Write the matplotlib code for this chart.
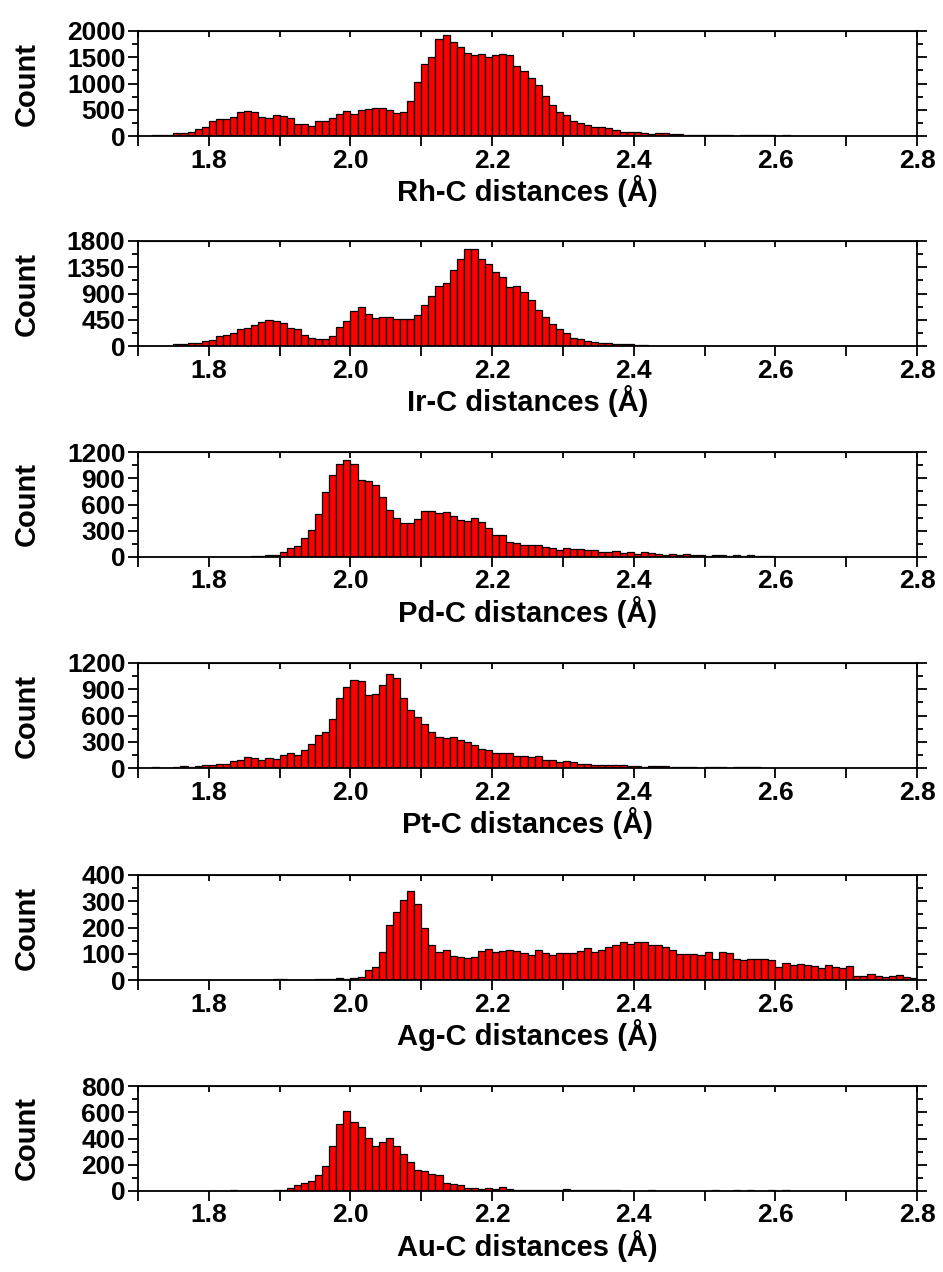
import numpy as np
import matplotlib
matplotlib.use("Agg")
import matplotlib.pyplot as plt
from matplotlib.ticker import MultipleLocator

plt.rcParams['font.family'] = ['Liberation Sans', 'DejaVu Sans']
plt.rcParams['font.weight'] = 'bold'

# histogram bins: 0.01 A wide, starting at 1.70 A (110 bins up to 2.80)
bin_start = 1.70
bin_width = 0.01

rh_counts = [0, 0, 25, 25, 25, 50, 50, 75, 125, 180,
             295, 327, 327, 370, 460, 478, 460, 370, 352, 400,
             390, 352, 233, 233, 200, 277, 295, 352, 410, 478,
             420, 503, 515, 535, 535, 503, 446, 460, 660, 1025,
             1371, 1503, 1855, 1918, 1786, 1692, 1579, 1541, 1560, 1503,
             1541, 1566, 1535, 1333, 1233, 1107, 975, 761, 585, 465,
             403, 277, 252, 214, 176, 164, 151, 113, 75, 75,
             69, 63, 38, 63, 63, 44, 44, 25, 19, 19,
             19, 19, 19, 19, 0, 25, 25, 25, 25, 25,
             0, 25, 0, 0, 0, 0, 0, 0, 0, 0,
             0, 0, 0, 0, 0, 0, 0, 0, 0, 0]

ir_counts = [0, 0, 5, 5, 5, 34, 34, 46, 46, 80,
             97, 165, 182, 222, 296, 308, 353, 410, 445, 428,
             388, 308, 285, 194, 142, 125, 125, 177, 331, 428,
             593, 673, 542, 473, 490, 502, 456, 456, 467, 524,
             707, 861, 1032, 1083, 1311, 1493, 1664, 1664, 1493, 1408,
             1265, 1191, 1015, 1032, 918, 792, 621, 502, 382, 291,
             228, 142, 114, 80, 74, 57, 46, 34, 34, 34,
             10, 10, 8, 8, 5, 5, 5, 5, 5, 5,
             0, 0, 0, 0, 0, 0, 0, 0, 0, 0,
             0, 0, 0, 0, 0, 0, 0, 0, 0, 0,
             0, 0, 0, 0, 0, 0, 0, 0, 0, 0]

pd_counts = [0, 0, 0, 0, 0, 0, 0, 0, 0, 0,
             0, 0, 0, 0, 0, 0, 8, 8, 23, 23,
             53, 102, 129, 212, 314, 496, 738, 939, 1067, 1109,
             1067, 878, 863, 818, 681, 541, 443, 394, 383, 439,
             522, 522, 500, 511, 466, 424, 413, 443, 401, 333,
             257, 257, 170, 155, 132, 132, 132, 114, 106, 83,
             102, 91, 91, 79, 79, 53, 53, 64, 45, 53,
             34, 53, 45, 34, 23, 34, 23, 34, 23, 23,
             11, 23, 23, 11, 23, 11, 23, 8, 8, 8,
             3, 3, 3, 3, 3, 3, 0, 0, 0, 0,
             0, 0, 0, 0, 0, 0, 0, 0, 0, 0]

pt_counts = [0, 0, 11, 0, 2, 11, 19, 11, 19, 34,
             34, 46, 46, 80, 95, 126, 114, 95, 118, 107,
             152, 171, 152, 206, 278, 377, 415, 556, 796, 922,
             1006, 991, 838, 850, 945, 1074, 1025, 796, 663, 579,
             499, 411, 354, 347, 354, 316, 293, 259, 217, 206,
             168, 168, 168, 133, 133, 122, 133, 95, 95, 69,
             76, 65, 46, 46, 38, 30, 30, 30, 30, 19,
             19, 11, 19, 19, 19, 11, 11, 11, 11, 3,
             11, 11, 11, 3, 11, 11, 11, 11, 0, 0,
             0, 0, 0, 0, 0, 0, 0, 0, 0, 0,
             0, 0, 0, 0, 0, 0, 0, 0, 0, 0]

ag_counts = [0, 0, 0, 0, 0, 0, 0, 0, 0, 0,
             0, 0, 0, 0, 0, 0, 0, 0, 0, 3,
             3, 0, 0, 1, 0, 3, 3, 4, 9, 5,
             9, 13, 39, 50, 108, 211, 260, 305, 338, 290,
             199, 135, 108, 114, 93, 89, 85, 89, 112, 119,
             105, 112, 116, 112, 102, 95, 116, 104, 97, 104,
             104, 104, 112, 123, 108, 116, 127, 135, 146, 138,
             146, 146, 135, 135, 127, 116, 100, 100, 100, 97,
             108, 79, 108, 102, 80, 75, 80, 81, 81, 76,
             51, 64, 58, 62, 58, 53, 47, 58, 51, 47,
             53, 17, 17, 24, 17, 13, 17, 20, 13, 9]

au_counts = [0, 0, 0, 0, 0, 0, 0, 0, 0, 0,
             0, 0, 0, 5, 0, 3, 0, 3, 3, 10,
             10, 20, 46, 58, 76, 119, 190, 340, 513, 607,
             528, 488, 406, 345, 376, 401, 345, 284, 224, 163,
             155, 130, 119, 64, 56, 43, 25, 25, 18, 25,
             18, 33, 18, 10, 10, 10, 10, 10, 10, 10,
             18, 10, 10, 5, 5, 5, 5, 5, 0, 0,
             0, 0, 5, 0, 0, 0, 0, 0, 0, 0,
             0, 5, 0, 0, 5, 0, 5, 0, 0, 5,
             0, 5, 0, 0, 0, 0, 0, 0, 0, 0,
             0, 0, 0, 0, 0, 0, 0, 0, 0, 0]

labels = ['Rh-C', 'Ir-C', 'Pd-C', 'Pt-C', 'Ag-C', 'Au-C']
series = [rh_counts, ir_counts, pd_counts, pt_counts, ag_counts, au_counts]
y_max = [2000, 1800, 1200, 1200, 400, 800]
y_step = [500, 450, 300, 300, 100, 200]

W, H = 943, 1272
fig = plt.figure(figsize=(W / 100, H / 100), dpi=100)

left_px, right_px = 138, 917
bottoms_px = [136, 346, 557, 768, 980, 1191]
height_px = 105

for k, (lab, counts) in enumerate(zip(labels, series)):
    ax = fig.add_axes([left_px / W, 1 - bottoms_px[k] / H,
                       (right_px - left_px) / W, height_px / H])
    x = bin_start + bin_width * np.arange(len(counts))
    ax.bar(x, counts, width=bin_width, align='edge', color='#ff0000',
           edgecolor='black', linewidth=0.9)
    ax.set_xlim(1.7, 2.8)
    ax.set_ylim(0, y_max[k])
    ax.xaxis.set_major_locator(MultipleLocator(0.2))
    ax.xaxis.set_minor_locator(MultipleLocator(0.1))
    ax.yaxis.set_major_locator(MultipleLocator(y_step[k]))
    ax.yaxis.set_minor_locator(MultipleLocator(y_step[k] / 2))
    ax.xaxis.set_major_formatter(plt.FormatStrFormatter('%.1f'))
    ax.tick_params(axis='both', which='both', direction='out', width=1.3,
                   labelsize=19, right=True)
    ax.tick_params(axis='both', which='major', length=7, pad=2)
    ax.tick_params(axis='both', which='minor', length=4)
    ax.tick_params(axis='x', which='minor', length=7)
    for lbl in ax.get_xticklabels() + ax.get_yticklabels():
        lbl.set_fontweight('bold')
    for sp in ax.spines.values():
        sp.set_linewidth(1.3)

    # inward ticks along the top frame
    top = ax.secondary_xaxis('top')
    top.xaxis.set_major_locator(MultipleLocator(0.1))
    top.tick_params(direction='in', length=4, width=1.3, labelsize=0, labeltop=False)

    ax.set_xlabel(f'{lab} distances (Å)', fontsize=21, fontweight='bold', labelpad=2)
    ax.set_ylabel('Count', fontsize=21, fontweight='bold')
    ax.yaxis.set_label_coords(-0.125, 0.5)

fig.savefig('out.png', dpi=100)
